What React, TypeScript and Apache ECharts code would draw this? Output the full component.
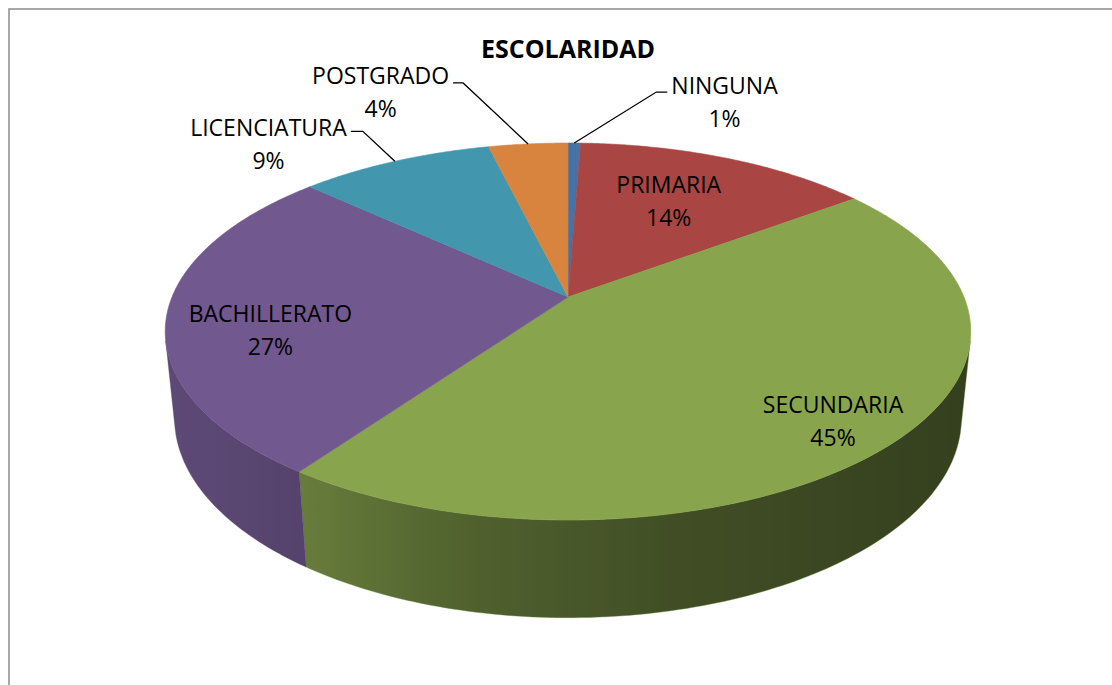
import React, { useEffect, useRef } from 'react';
import * as echarts from 'echarts';

// ---- data ----
const categories = ['NINGUNA', 'PRIMARIA', 'SECUNDARIA', 'BACHILLERATO', 'LICENCIATURA', 'POSTGRADO'];
const values = [0.6, 14.2, 45.0, 27.1, 9.3, 3.8];
const sliceColors = ['#4F81BD', '#C0504D', '#9BBB59', '#8064A2', '#4BACC6', '#F79646'];
const chartTitle = 'ESCOLARIDAD';

// ---- label placement (layout, not data) ----
const labelLayout: any[] = [
  { inside: false, elbow: [82, -51], arm: 11, textDy: -7 },
  { inside: true, r: 0.6, dy: -8 },
  { inside: true, r: 0.835, dy: 5 },
  { inside: true, r: 0.745, dy: 18 },
  { inside: false, elbow: [-32, -30], arm: -12, textDy: -4 },
  { inside: false, elbow: [-65, -61], arm: -10, textDy: -8 },
];

// ---- 3D view ----
const VIEW = { cx: 568, cy: 297, fx: 1926, fy: 1945, dist: 4.864, tiltDeg: 27.1, h: 0.245 };
const TOP_SHADE = 0.88;
const WALL_SHADE: [number, number][] = [
  [0, 0.32], [13, 0.33], [45, 0.36], [75, 0.41], [100, 0.51], [125, 0.67], [145, 0.72], [180, 0.74],
];
const FONT = "'Open Sans', 'Liberation Sans', sans-serif";
const FONT_SIZE = 23;
const LINE_GAP = 33;

const sinT = Math.sin((VIEW.tiltDeg * Math.PI) / 180);
const cosT = Math.cos((VIEW.tiltDeg * Math.PI) / 180);

function proj(theta: number, r: number, y: number): [number, number] {
  const X = r * Math.cos(theta);
  const Z = r * Math.sin(theta);
  const yc = y * cosT - Z * sinT;
  const depth = VIEW.dist - y * sinT - Z * cosT;
  return [VIEW.cx + (VIEW.fx * X) / depth, VIEW.cy - (VIEW.fy * yc) / depth];
}

function shadeAt(deg: number): number {
  for (let i = 0; i < WALL_SHADE.length - 1; i++) {
    const [a0, s0] = WALL_SHADE[i];
    const [a1, s1] = WALL_SHADE[i + 1];
    if (deg >= a0 && deg <= a1) return s0 + ((s1 - s0) * (deg - a0)) / (a1 - a0);
  }
  return deg < WALL_SHADE[0][0] ? WALL_SHADE[0][1] : WALL_SHADE[WALL_SHADE.length - 1][1];
}

function scaleColor(hex: string, k: number): string {
  const n = parseInt(hex.slice(1), 16);
  const r = Math.round(((n >> 16) & 255) * k);
  const g = Math.round(((n >> 8) & 255) * k);
  const b = Math.round((n & 255) * k);
  return `rgb(${r},${g},${b})`;
}

let measureCtx: CanvasRenderingContext2D | null = null;
function textWidth(t: string): number {
  if (!measureCtx) measureCtx = document.createElement('canvas').getContext('2d');
  if (!measureCtx) return t.length * FONT_SIZE * 0.6;
  measureCtx.font = `${FONT_SIZE}px ${FONT}`;
  return measureCtx.measureText(t).width;
}

const total = values.reduce((a, b) => a + b, 0);

function renderItem(params: any, api: any) {
  const i = params.dataIndex;
  const v = api.value(0);
  let cum = 0;
  for (let k = 0; k < i; k++) cum += values[k];
  const a0 = -Math.PI / 2 + (2 * Math.PI * cum) / total;
  const a1 = -Math.PI / 2 + (2 * Math.PI * (cum + v)) / total;
  const base = sliceColors[i % sliceColors.length];
  const children: any[] = [];

  // visible outer wall
  const tv = Math.asin(1 / (VIEW.dist * cosT));
  const lo = Math.max(a0, tv);
  const hi = Math.min(a1, Math.PI - tv);
  if (lo < hi) {
    const n = Math.max(4, Math.ceil(((hi - lo) * 180) / Math.PI));
    const topPts: number[][] = [];
    const botPts: number[][] = [];
    const samples: { x: number; deg: number }[] = [];
    for (let k = 0; k <= n; k++) {
      const t = lo + ((hi - lo) * k) / n;
      const p = proj(t, 1, 0);
      topPts.push(p);
      botPts.push(proj(t, 1, -VIEW.h));
      samples.push({ x: p[0], deg: (t * 180) / Math.PI });
    }
    const xs = topPts.map((p) => p[0]).concat(botPts.map((p) => p[0]));
    const xmin = Math.min(...xs);
    const xmax = Math.max(...xs);
    samples.sort((a, b) => a.x - b.x);
    const stops = samples.map((s) => ({
      offset: Math.min(1, Math.max(0, (s.x - xmin) / (xmax - xmin))),
      color: scaleColor(base, shadeAt(s.deg)),
    }));
    children.push({
      type: 'polygon',
      z2: 1,
      shape: { points: topPts.concat(botPts.reverse()) },
      style: {
        fill: new echarts.graphic.LinearGradient(xmin, 0, xmax, 0, stops, true),
        stroke: scaleColor(base, shadeAt(samples[0].deg)),
        lineWidth: 0.4,
      },
    });
  }

  // top face
  const topColor = scaleColor(base, TOP_SHADE);
  const m = Math.max(2, Math.ceil(((a1 - a0) * 180) / Math.PI) * 2);
  const face: number[][] = [proj(0, 0, 0)];
  for (let k = 0; k <= m; k++) face.push(proj(a0 + ((a1 - a0) * k) / m, 1, 0));
  children.push({
    type: 'polygon',
    z2: 2,
    shape: { points: face },
    style: { fill: topColor, stroke: topColor, lineWidth: 0.6 },
  });

  // labels
  const pct = Math.round((v / total) * 100) + '%';
  const name = categories[i];
  const mid = (a0 + a1) / 2;
  const L = labelLayout[i];
  const txt = (x: number, y: number, text: string) => ({
    type: 'text',
    z2: 5,
    x,
    y,
    style: {
      text,
      fill: '#000',
      fontSize: FONT_SIZE,
      fontFamily: FONT,
      align: 'center',
      verticalAlign: 'middle',
    },
  });
  if (L.inside) {
    const p = proj(mid, L.r, 0);
    const cy = p[1] + (L.dy || 0);
    children.push(txt(p[0], cy - LINE_GAP / 2, name));
    children.push(txt(p[0], cy + LINE_GAP / 2, pct));
  } else {
    const rim = proj(mid, 1, 0);
    const elbow = [rim[0] + L.elbow[0], rim[1] + L.elbow[1]];
    const end = [elbow[0] + L.arm, elbow[1]];
    const dir = Math.sign(L.arm);
    children.push({
      type: 'polyline',
      z2: 4,
      shape: { points: [rim, elbow, end] },
      style: { stroke: '#000', lineWidth: 1.3, fill: null },
    });
    const w = textWidth(name);
    const tx = end[0] + dir * (4 + w / 2);
    const y1 = elbow[1] + L.textDy;
    children.push(txt(tx, y1, name));
    children.push(txt(tx, y1 + LINE_GAP, pct));
  }

  return { type: 'group', children };
}

export default function App() {
  const ref = useRef<HTMLDivElement>(null);
  useEffect(() => {
    document.body.style.margin = '0';
    if (!ref.current) return;
    const chart = echarts.init(ref.current, null, { renderer: 'svg' });
    chart.setOption({
      animation: false,
      backgroundColor: '#fff',
      title: {
        text: chartTitle,
        left: VIEW.cx - 5,
        textAlign: 'center',
        top: 30,
        textStyle: { fontSize: 25, fontWeight: 'bold', fontFamily: FONT, color: '#000' },
      },
      graphic: [
        {
          type: 'rect',
          shape: { x: 9, y: 9, width: 1300, height: 900 },
          style: { fill: 'none', stroke: '#8a8a8a', lineWidth: 1.5 },
          z: -1,
        },
      ],
      series: [
        {
          type: 'custom',
          coordinateSystem: 'none',
          renderItem,
          data: values.map((v, i) => ({ value: v, name: categories[i] })),
        },
      ],
    });
    return () => chart.dispose();
  }, []);
  return <div ref={ref} style={{ width: 1112, height: 685 }} />;
}
